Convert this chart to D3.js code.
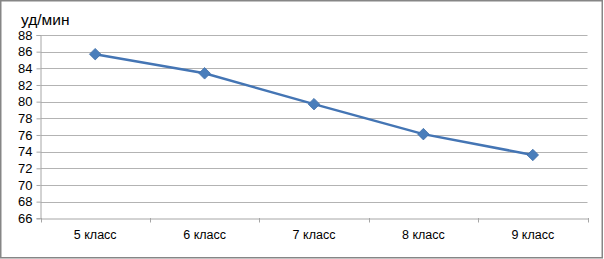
<!DOCTYPE html>
<html lang="ru">
<head>
<meta charset="utf-8">
<title>уд/мин</title>
<script src="https://d3js.org/d3.v7.min.js"></script>
<style>
  body { margin: 0; background: #fff; }
  svg { display: block; font-family: "Liberation Sans", Arial, sans-serif; }
</style>
</head>
<body>
<svg width="604" height="259"></svg>
<script>
// данные
var categories = ["5 класс", "6 класс", "7 класс", "8 класс", "9 класс"];
var pulse = [85.7, 83.4, 79.7, 76.1, 73.6];
var yTicks = [66, 68, 70, 72, 74, 76, 78, 80, 82, 84, 86, 88];

var svg = d3.select("svg");
var plotLeft = 40.5, plotRight = 587.5, plotTop = 35, plotBottom = 218.3;

// рамка
svg.append("rect")
   .attr("x", 0.75).attr("y", 0.75)
   .attr("width", 601.5).attr("height", 257)
   .attr("fill", "#fff")
   .attr("stroke", "#868686")
   .attr("stroke-width", 1.5);

var x = d3.scaleBand().domain(categories).range([plotLeft, plotRight]);
var y = d3.scaleLinear().domain([66, 88]).range([plotBottom, plotTop]);

// сетка
svg.append("g").selectAll("line")
   .data(yTicks.slice(1))
   .join("line")
   .attr("x1", plotLeft).attr("x2", plotRight)
   .attr("y1", function(d){ return Math.round(y(d)) + 0.5; })
   .attr("y2", function(d){ return Math.round(y(d)) + 0.5; })
   .attr("stroke", "#b3b3b3").attr("stroke-width", 1);

// ось Y
var yAxis = svg.append("g")
   .attr("transform", "translate(" + plotLeft + ",0)")
   .call(d3.axisLeft(y).tickValues(yTicks).tickSize(4).tickPadding(4));
yAxis.select(".domain").attr("stroke", "#a6a6a6");
yAxis.selectAll(".tick line").attr("stroke", "#a6a6a6");
yAxis.selectAll("text").attr("font-size", 13).attr("fill", "#000")
     .attr("font-family", "Liberation Sans, Arial, sans-serif");

// ось X
var xAxis = svg.append("g")
   .attr("transform", "translate(0," + (Math.round(plotBottom) + 0.5) + ")")
   .call(d3.axisBottom(x).tickSizeInner(0).tickSizeOuter(0).tickPadding(12));
xAxis.select(".domain").attr("stroke", "#a6a6a6");
xAxis.selectAll("text").attr("font-size", 12.5).attr("fill", "#000")
     .attr("font-family", "Liberation Sans, Arial, sans-serif");
// деления между категориями
var edges = categories.map(function(c){ return x(c); }).concat([plotRight]);
svg.append("g").selectAll("line")
   .data(edges)
   .join("line")
   .attr("x1", function(d){ return Math.round(d) + 0.5; })
   .attr("x2", function(d){ return Math.round(d) + 0.5; })
   .attr("y1", Math.round(plotBottom)).attr("y2", Math.round(plotBottom) + 4.5)
   .attr("stroke", "#a6a6a6");

// подпись оси
svg.append("text")
   .attr("x", 21).attr("y", 25)
   .attr("font-size", 15.5)
   .text("уд/мин");

// линия
var line = d3.line()
   .x(function(d, i){ return x(categories[i]) + x.bandwidth() / 2; })
   .y(function(d){ return y(d); });

svg.append("path")
   .datum(pulse)
   .attr("d", line)
   .attr("fill", "none")
   .attr("stroke", "#4475b4")
   .attr("stroke-width", 2.5);

// маркеры
svg.append("g").selectAll("path")
   .data(pulse)
   .join("path")
   .attr("transform", function(d, i){
       return "translate(" + (x(categories[i]) + x.bandwidth() / 2) + "," + y(d) + ")";
   })
   .attr("d", d3.symbol().type(d3.symbolDiamond2).size(85))
   .attr("fill", "#4a7ebb")
   .attr("stroke", "#3d6ca5")
   .attr("stroke-width", 0.75);
</script>
</body>
</html>
